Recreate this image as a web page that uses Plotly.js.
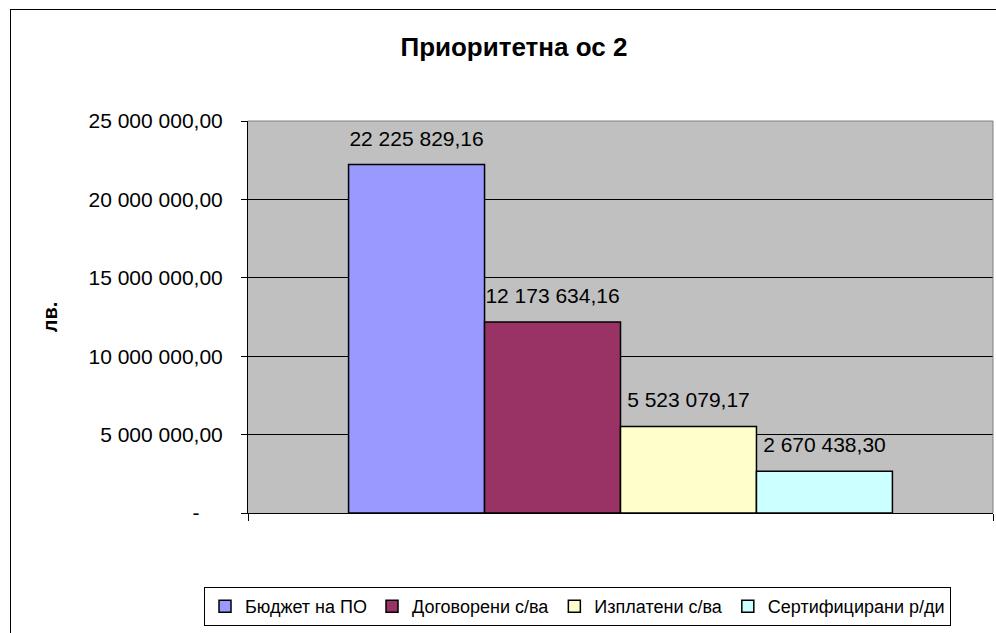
<!DOCTYPE html>
<html><head><meta charset="utf-8">
<script src="https://cdn.plot.ly/plotly-3.0.1.min.js"></script>
<style>
html,body{margin:0;padding:0;background:#fff;}
#wrap{position:relative;width:996px;height:633px;overflow:hidden;}
#chart{width:996px;height:633px;}
#frame{position:absolute;left:10px;top:9px;width:1100px;height:700px;border:1px solid #000;pointer-events:none;}
</style></head><body>
<div id="wrap"><div id="chart"></div><div id="frame"></div></div>
<script>
const category = ['Приоритетна ос 2'];
const seriesNames = ['Бюджет на ПО', 'Договорени с/ва', 'Изплатени с/ва', 'Сертифицирани р/ди'];
const seriesValues = [22225829.16, 12173634.16, 5523079.17, 2670438.30];
const seriesColors = ['#9999FF', '#993366', '#FFFFCC', '#CCFFFF'];
const yTickVals = [0, 5000000, 10000000, 15000000, 20000000, 25000000];
const yTickText = ['-\u00a0\u00a0\u00a0\u00a0', '5 000 000,00', '10 000 000,00', '15 000 000,00', '20 000 000,00', '25 000 000,00'];

const FONT = 'Liberation Sans, Arial, sans-serif';

const traces = seriesNames.map((n, i) => ({
  type: 'bar',
  name: n,
  x: category,
  y: [seriesValues[i]],
  marker: {color: seriesColors[i], line: {color: '#000', width: 1.5}},
  texttemplate: '%{y:,.2f}',
  textposition: 'outside',
  constraintext: 'none',
  cliponaxis: false,
  textfont: {family: FONT, size: 21, color: '#000'},
  hoverinfo: 'skip'
}));

const layout = {
  width: 996, height: 633,
  margin: {l: 248, r: 3, t: 121, b: 120, pad: 0},
  paper_bgcolor: '#fff',
  plot_bgcolor: '#C0C0C0',
  separators: ', ',
  font: {family: FONT, size: 20, color: '#000'},
  showlegend: true,
  title: {
    text: 'Приоритетна ос 2',
    font: {family: FONT, size: 26, weight: 700, color: '#000'},
    xref: 'container', x: 0.516, xanchor: 'center',
    yref: 'container', y: 0.926, yanchor: 'middle'
  },
  barmode: 'group',
  bargap: 0.27,
  bargroupgap: 0,
  xaxis: {
    type: 'category',
    range: [-0.5, 0.5],
    showticklabels: false,
    ticks: 'outside', tickson: 'boundaries', ticklen: 7, tickcolor: '#000', tickwidth: 1,
    showline: true, linecolor: '#000', linewidth: 1,
    showgrid: false, zeroline: false, fixedrange: true
  },
  yaxis: {
    range: [0, 25000000],
    tickmode: 'array', tickvals: yTickVals, ticktext: yTickText,
    ticks: 'outside', ticklen: 6, tickcolor: '#000', tickwidth: 1,
    ticklabelstandoff: 14,
    showline: true, linecolor: '#000', linewidth: 1,
    showgrid: true, gridcolor: '#000', gridwidth: 1,
    zeroline: false, fixedrange: true,
    tickfont: {family: FONT, size: 21, color: '#000'},
    title: {text: 'лв.', font: {family: FONT, size: 20, weight: 700, color: '#000'}, standoff: 25}
  },
  legend: {
    orientation: 'h',
    xref: 'paper', x: (204 - 248) / 745, xanchor: 'left',
    yref: 'paper', y: -(587 - 513) / 392, yanchor: 'top',
    bgcolor: '#fff', bordercolor: '#000', borderwidth: 1,
    font: {family: FONT, size: 18, color: '#000'},
    itemwidth: 30, traceorder: 'normal'
  },
  shapes: [
    {type: 'line', xref: 'paper', yref: 'paper', x0: 0, x1: 1, y0: 1, y1: 1, line: {color: '#808080', width: 1}},
    {type: 'line', xref: 'paper', yref: 'paper', x0: 1, x1: 1, y0: 0, y1: 1, line: {color: '#808080', width: 1}}
  ]
};

Plotly.newPlot('chart', traces, layout, {displayModeBar: false, staticPlot: true}).then(() => {
  document.querySelectorAll('.bartext').forEach(t => {
    const tr = t.getAttribute('transform') || '';
    t.setAttribute('transform', tr + ' translate(0,-12)');
  });
});
</script>
</body></html>
